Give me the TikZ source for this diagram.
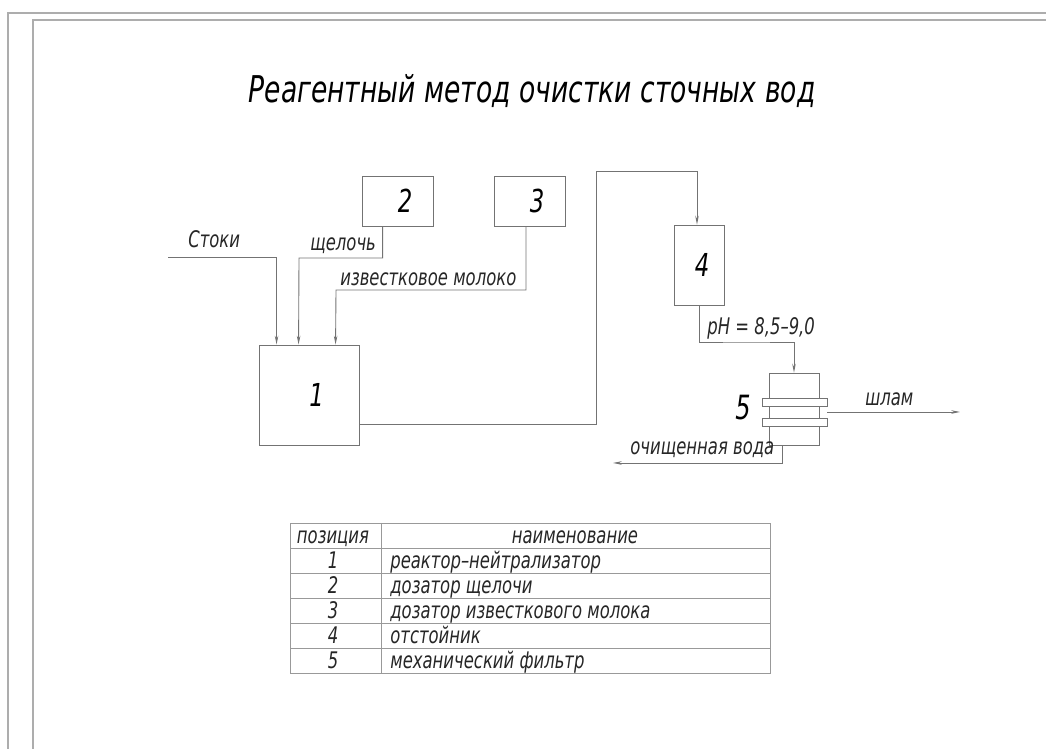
\documentclass[tikz,border=0pt]{standalone}
\usepackage{fontspec}
\setmainfont{DejaVu Sans}[FakeStretch=0.72]
\usetikzlibrary{arrows.meta,positioning}
\definecolor{lncol}{gray}{0.45}
\definecolor{framecol}{gray}{0.68}
\definecolor{tabcol}{gray}{0.6}
\tikzset{
  unit/.style={draw=lncol, line width=0.5pt, inner sep=0pt, font=\fontsize{18}{20}\selectfont\itshape},
  plate/.style={draw=lncol, line width=0.5pt, fill=white, inner sep=0pt, minimum width=1.3cm, minimum height=0.16cm},
  lbl/.style={inner sep=0pt, text=black!85, font=\fontsize{13}{15}\selectfont\itshape},
  flow/.style={draw=lncol, line width=0.5pt, ->, >={Stealth[length=5pt,width=2pt]}},
}

\begin{document}
\begin{tikzpicture}[x=0.02cm,y=-0.02cm]
\useasboundingbox (0,0) rectangle (1046,749);

% sheet frame
\draw[framecol, line width=0.8pt] (1046,13) -- (8,13) -- (8,749);
\draw[framecol, line width=0.8pt] (1046,20) -- (33,20) -- (33,749);

% title
\node[inner sep=0pt, anchor=base, font=\fontsize{21}{25}\selectfont\itshape] (title) at (532,103) {Реагентный метод очистки сточных вод};

% units
\node[unit, minimum width=2cm, minimum height=2cm] (b1) at (309,395) {\hspace*{0.3cm}1};
\node[unit, minimum width=1.42cm, minimum height=1cm] (b2) at (397.5,201) {\hspace*{0.3cm}2};
\node[unit, minimum width=1.42cm, minimum height=1cm] (b3) at (529.5,201) {\hspace*{0.3cm}3};
\node[unit, minimum width=1cm, minimum height=1.6cm] (b4) at (699,265) {\hspace*{0.12cm}4};
\node[unit, minimum width=1cm, minimum height=1.44cm] (b5) at (794,409) {};
\node[plate] (p1) at (794.5,402) {};
\node[plate] (p2) at (794.5,422) {};
\node[unit, draw=none, font=\fontsize{19}{21}\selectfont\itshape] (n5) at (743,408) {5};

% inputs to the reactor
\coordinate (stoki) at (168,257);
\draw[flow] (stoki) -| ([xshift=0.36cm]b1.north west);
\node[lbl, anchor=base west] (lstoki) at (188,248) {Стоки};

\coordinate (j2) at (299,258);
\draw[flow] ([xshift=0.42cm]b2.south west) |- (j2) -- ([xshift=0.8cm]b1.north west);
\node[lbl, anchor=base west] (lalk) at (310,251) {щелочь};

\coordinate (j3) at (336,290);
\draw[flow] ([xshift=-0.07cm]b3.south) |- (j3) -- ([xshift=1.54cm]b1.north west);
\node[lbl, anchor=base west] (llime) at (340,286) {известковое молоко};

% reactor -> settler -> filter
\coordinate (j4) at (596,171);
\draw[flow] ([yshift=-0.58cm]b1.east) -| (j4) -| ([xshift=-0.04cm]b4.north);

\coordinate (j5) at (746,342);
\draw[flow] (b4.south) |- (j5) -| (b5.north);
\node[lbl, anchor=base west] (lph) at (707,335) {pH = 8,5–9,0};

% outputs
\coordinate (shlam) at (960,412);
\draw[flow] (p1.east |- shlam) -- (shlam);
\node[lbl, anchor=base west] (lshlam) at (865,406) {шлам};

\coordinate (clean) at (613,463);
\draw[flow] ([xshift=0.28cm]b5.south west) |- (clean);
\node[lbl, anchor=base west] (lclean) at (630,455) {очищенная вода};

% legend table
\draw[tabcol, line width=0.5pt] (290,523) rectangle (770,673);
\draw[tabcol, line width=0.5pt] (381,523) -- (381,673);
\foreach \y in {548,573,...,648}
  \draw[tabcol, line width=0.5pt] (290,\y) -- (770,\y);
\node[lbl, anchor=base] (hpos) at (333,544) {позиция};
\node[lbl, anchor=base] (hname) at (575,544) {наименование};
\foreach \i/\txt in {1/реактор–нейтрализатор, 2/дозатор щелочи, 3/дозатор известкового молока, 4/отстойник, 5/механический фильтр} {
  \node[lbl, anchor=base] (pos\i) at (333,544+25*\i) {\i};
  \node[lbl, anchor=base west] (name\i) at (390,544+25*\i) {\txt};
}
\end{tikzpicture}
\end{document}
